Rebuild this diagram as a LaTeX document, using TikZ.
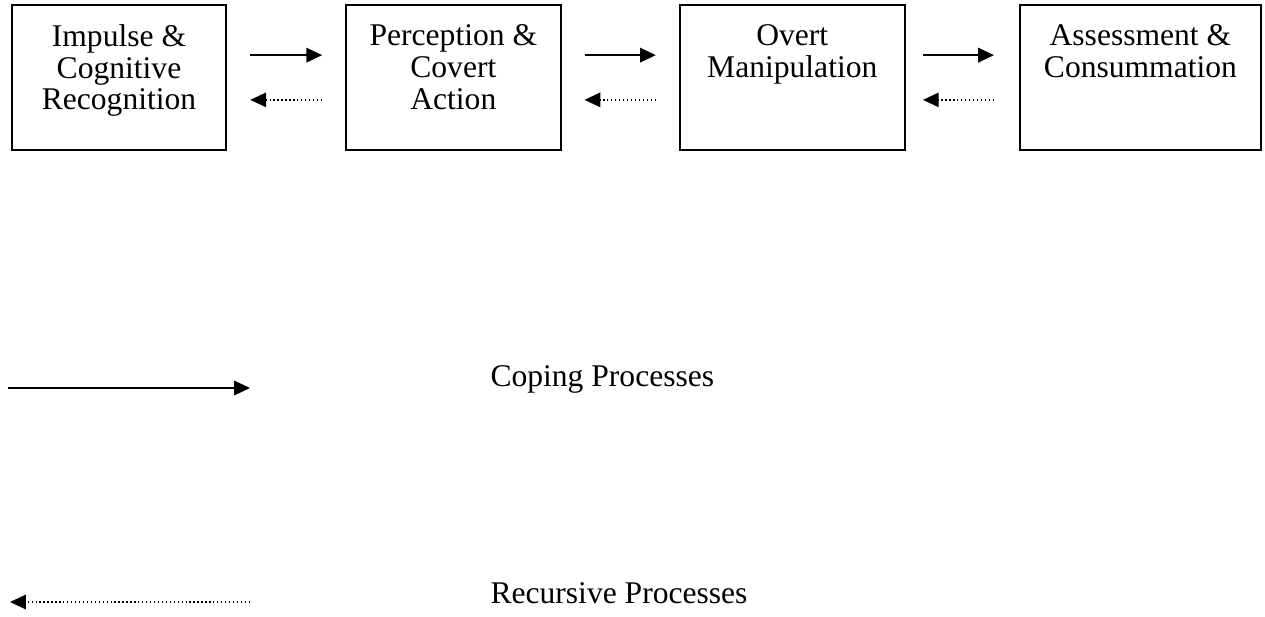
\documentclass[tikz,border=0pt]{standalone}
\usepackage{fontspec}
\setmainfont{Liberation Serif}
\usepackage{tikz}
\usetikzlibrary{%
    arrows.meta,
    positioning,
    calc
}

\newcommand{\stagetext}[2]{\parbox[c][55pt][t]{#1}{\centering\vspace*{7.5pt}#2}}

\begin{document}
\begin{tikzpicture}[x=0.38pt, y=-0.38pt, node distance=45pt,
                stage/.style={rectangle, draw, thick, inner sep=0pt, font=\fontsize{12pt}{12pt}\selectfont},
                legend/.style={inner sep=0pt, font=\fontsize{12pt}{12pt}\selectfont},
                flow/.style={draw, line width=0.7pt, -{Triangle[length=6pt, width=5.5pt]}},
                reverse_flow/.style={draw, line width=0.5pt, densely dotted, -{Triangle[length=6pt, width=5.5pt]}}
            ]
            \useasboundingbox (0,0) rectangle (1265,616);

            \node (impulse) at (119,77.5) [stage] {\stagetext{81pt}{Impulse \&\\Cognitive\\Recognition}};
            \node (perception) [stage, right=45pt of impulse] {\stagetext{81.5pt}{Perception \&\\Covert\\Action}};
            \node (overt) [stage, right=44.5pt of perception] {\stagetext{85.5pt}{Overt\\Manipulation}};
            \node (assessment) [stage, right=43pt of overt] {\stagetext{91.5pt}{Assessment \&\\Consummation}};

            \draw [flow, shorten <=9pt, shorten >=8.7pt] ([yshift=8.5pt]impulse.east) -- ([yshift=8.5pt]perception.west);
            \draw [reverse_flow, shorten <=8.7pt, shorten >=9pt] ([yshift=-8.5pt]perception.west) -- ([yshift=-8.5pt]impulse.east);

            \draw [flow, shorten <=8.7pt, shorten >=8.7pt] ([yshift=8.5pt]perception.east) -- ([yshift=8.5pt]overt.west);
            \draw [reverse_flow, shorten <=8.7pt, shorten >=8.7pt] ([yshift=-8.5pt]overt.west) -- ([yshift=-8.5pt]perception.east);

            \draw [flow, shorten <=6.5pt, shorten >=9.5pt] ([yshift=8.5pt]overt.east) -- ([yshift=8.5pt]assessment.west);
            \draw [reverse_flow, shorten <=9.5pt, shorten >=6.5pt] ([yshift=-8.5pt]assessment.west) -- ([yshift=-8.5pt]overt.east);

            % legend
            \coordinate (copeStart) at (8,388);
            \coordinate (copeEnd) at (250,388);
            \node (copeLabel) at (490,386) [legend, anchor=base west] {Coping Processes};
            \draw [flow] (copeStart) -- (copeEnd);

            \coordinate (recStart) at (250,602);
            \coordinate (recEnd) at (10,602);
            \node (recLabel) at (490,603) [legend, anchor=base west] {Recursive Processes};
            \draw [reverse_flow] (recStart) -- (recEnd);
        \end{tikzpicture}
\end{document}
